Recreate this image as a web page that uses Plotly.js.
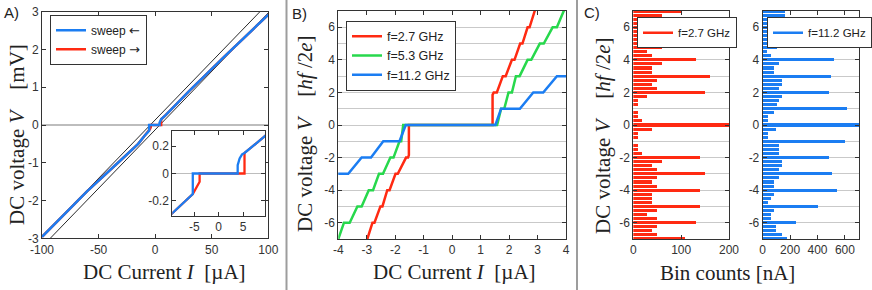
<!DOCTYPE html>
<html><head><meta charset="utf-8">
<script src="https://cdn.plot.ly/plotly-3.0.1.min.js"></script>
<style>html,body{margin:0;padding:0;background:#fff;}</style>
</head><body>
<div id="chart" style="width:872px;height:290px;"></div>
<script>
// ---------- Panel A: IV curve (mV vs µA) ----------
const sweepBackI = [-100, -60, -30, -15, -9.5, -5.3, -5.3, 3.9, 3.9, 4.3, 4.8, 5.3, 9.5, 15, 30, 60, 100];
const sweepBackV = [-2.96, -1.75, -0.92, -0.5, -0.29, -0.15, 0, 0, 0.06, 0.11, 0.14, 0.15, 0.27, 0.44, 0.9, 1.78, 2.92];
const sweepFwdI = [-100, -60, -30, -15, -9.5, -5.3, -4.6, -3.9, -3.9, 5.3, 5.3, 9.5, 15, 30, 60, 100];
const sweepFwdV = [-2.96, -1.75, -0.92, -0.5, -0.29, -0.15, -0.11, -0.06, 0, 0, 0.15, 0.27, 0.44, 0.9, 1.78, 2.92];
const asymUpperI = [-100, 92.6];
const asymUpperV = [-2.96, 3.0];
const asymLowerI = [-92.7, 100];
const asymLowerV = [-3.0, 2.97];
const switchCurrents = [-5.3, -3.9, 3.9, 5.3];
const aXTickVals = [-100, -50, 0, 50, 100];
const aXTickText = ['-100', '-50', '0', '50', '100'];
const aYTickVals = [-3, -2, -1, 0, 1, 2, 3];
const aYTickText = ['-3', '-2', '-1', '0', '1', '2', '3'];
const inXTickVals = [-5, 0, 5];
const inXTickText = ['-5', '0', '5'];
const inYTickVals = [-0.2, 0, 0.2];
const inYTickText = ['-0.2', '0', '0.2'];

// ---------- Panel B: Shapiro steps ----------
const red27I = [-3.1, -2.98, -2.80, -2.73, -2.52, -2.45, -2.28, -2.20, -1.99, -1.91, -1.62, -1.55, -1.52, -1.52, 1.42, 1.42, 1.46, 1.57, 1.78, 1.88, 2.10, 2.19, 2.39, 2.47, 2.65, 2.72, 2.90, 3.0];
const red27V = [-7.4, -7, -6, -6, -5, -5, -4, -4, -3, -3, -2, -2, -1.85, 0, 0, 1.85, 2, 2, 3, 3, 4, 4, 5, 5, 6, 6, 7, 7.4];
const green53I = [-4.05, -4.0, -3.80, -3.60, -3.33, -3.18, -2.93, -2.78, -2.57, -2.43, -2.17, -2.06, -1.85, -1.79, -1.72, 1.58, 1.72, 1.83, 1.98, 2.10, 2.24, 2.37, 2.65, 2.78, 3.08, 3.22, 3.53, 3.68, 3.92, 4.05];
const green53V = [-7.2, -7, -6, -6, -5, -5, -4, -4, -3, -3, -2, -2, -1, -1, 0, 0, 1, 1, 2, 2, 3, 3, 4, 4, 5, 5, 6, 6, 7, 7.3];
const blue112I = [-4.05, -3.65, -3.18, -2.85, -2.42, -1.85, -1.63, 1.52, 1.72, 2.38, 2.85, 3.20, 3.68, 4.05];
const blue112V = [-3, -3, -2, -2, -1, -1, 0, 0, 1, 1, 2, 2, 3, 3];
const bXTickVals = [-4, -3, -2, -1, 0, 1, 2, 3, 4];
const bXTickText = ['-4', '-3', '-2', '-1', '0', '1', '2', '3', '4'];
const vTickVals = [-6, -4, -2, 0, 2, 4, 6];
const vTickText = ['-6', '-4', '-2', '0', '2', '4', '6'];

// ---------- Panel C: histograms ----------
const binV = [7, 6.75, 6.5, 6.25, 6, 5.75, 5.5, 5.25, 5, 4.75, 4.5, 4.25, 4, 3.75, 3.5, 3.25, 3, 2.75, 2.5, 2.25, 2, 1.75, 1.5, 1.25, 1, 0.75, 0.5, 0.25, 0,
  -0.25, -0.5, -0.75, -1, -1.25, -1.5, -1.75, -2, -2.25, -2.5, -2.75, -3, -3.25, -3.5, -3.75, -4, -4.25, -4.5, -4.75, -5, -5.25, -5.5, -5.75, -6, -6.25, -6.5, -6.75, -7];
const counts27 = [100, 59, 40, 45, 115, 45, 39, 49, 120, 59, 29, 39, 130, 59, 39, 39, 160, 49, 39, 49, 150, 29, 9, 9, 0, 9, 9, 19, 230,
  39, 9, 9, 0, 9, 9, 19, 140, 59, 39, 49, 150, 49, 39, 49, 140, 39, 39, 39, 140, 49, 29, 49, 130, 49, 39, 49, 109];
const counts112 = [160, 160, 60, 50, 230, 60, 58, 58, 379, 101, 34, 58, 522, 121, 82, 82, 502, 140, 140, 121, 481, 140, 121, 101, 618, 82, 36, 36, 750,
  100, 38, 38, 604, 120, 120, 120, 485, 139, 139, 120, 505, 120, 80, 80, 544, 80, 59, 39, 405, 80, 59, 59, 241, 100, 100, 139, 180];
const c1TickVals = [0, 100, 200];
const c1TickText = ['0', '100', '200'];
const c2TickVals = [0, 200, 400, 600];
const c2TickText = ['0', '200', '400', '600'];

// ---------- styles ----------
const RED = '#ff2a12', GREEN = '#27d84c', BLUE = '#1b7df2';
const SANS = 'Liberation Sans, Arial, sans-serif';
const SERIF = 'Liberation Serif, Times New Roman, serif';
const tickFont = {family: SANS, size: 12, color: '#333'};
const GRID = '#c9c9c9';

function ax(extra) {
  return Object.assign({
    showline: true, linecolor: '#333', linewidth: 1, mirror: 'ticks',
    ticks: 'inside', ticklen: 4, tickwidth: 1, tickcolor: '#333',
    showgrid: false, zeroline: false, tickfont: tickFont, tickmode: 'array'
  }, extra);
}

const ARROW_L = '<span style="font-family:DejaVu Sans;font-size:13px">\u2190</span>';
const ARROW_R = '<span style="font-family:DejaVu Sans;font-size:13px">\u2192</span>';

const traces = [
  {x: asymUpperI, y: asymUpperV, xaxis: 'x', yaxis: 'y', mode: 'lines', line: {color: '#111', width: 0.9}, showlegend: false, hoverinfo: 'skip'},
  {x: asymLowerI, y: asymLowerV, xaxis: 'x', yaxis: 'y', mode: 'lines', line: {color: '#111', width: 0.9}, showlegend: false, hoverinfo: 'skip'},
  {x: sweepFwdI, y: sweepFwdV, xaxis: 'x', yaxis: 'y', mode: 'lines', line: {color: RED, width: 2.5}, showlegend: false},
  {x: sweepBackI, y: sweepBackV, xaxis: 'x', yaxis: 'y', mode: 'lines', line: {color: BLUE, width: 2.5}, name: 'sweep ' + ARROW_L, legend: 'legend', legendrank: 1},
  {x: [null], y: [null], xaxis: 'x', yaxis: 'y', mode: 'lines', line: {color: RED, width: 2.5}, name: 'sweep ' + ARROW_R, legend: 'legend', legendrank: 2},
  // inset
  {x: sweepFwdI, y: sweepFwdV, xaxis: 'x5', yaxis: 'y5', mode: 'lines', line: {color: RED, width: 2.3}, showlegend: false},
  {x: sweepBackI, y: sweepBackV, xaxis: 'x5', yaxis: 'y5', mode: 'lines', line: {color: BLUE, width: 2.3}, showlegend: false},
  // panel B
  {x: red27I, y: red27V, xaxis: 'x2', yaxis: 'y2', mode: 'lines', line: {color: RED, width: 2.5}, name: 'f=2.7 GHz', legend: 'legend2'},
  {x: green53I, y: green53V, xaxis: 'x2', yaxis: 'y2', mode: 'lines', line: {color: GREEN, width: 2.5}, name: 'f=5.3 GHz', legend: 'legend2'},
  {x: blue112I, y: blue112V, xaxis: 'x2', yaxis: 'y2', mode: 'lines', line: {color: BLUE, width: 2.5}, name: 'f=11.2 GHz', legend: 'legend2'},
  // panel C
  {type: 'bar', orientation: 'h', x: counts27, y: binV, xaxis: 'x3', yaxis: 'y3', width: 0.19, marker: {color: RED, line: {width: 0}}, showlegend: false},
  {x: [null], y: [null], xaxis: 'x3', yaxis: 'y3', mode: 'lines', line: {color: RED, width: 2.5}, name: 'f=2.7 GHz', legend: 'legend3'},
  {type: 'bar', orientation: 'h', x: counts112, y: binV, xaxis: 'x4', yaxis: 'y4', width: 0.19, marker: {color: BLUE, line: {width: 0}}, showlegend: false},
  {x: [null], y: [null], xaxis: 'x4', yaxis: 'y4', mode: 'lines', line: {color: BLUE, width: 2.5}, name: 'f=11.2 GHz', legend: 'legend4'}
];

const yDomA = [1 - 238.3/290, 1 - 11.7/290];
const yDomBC = [1 - 239/290, 1 - 11/290];
const minorGrid = {tickmode: 'linear', tick0: 0, dtick: 1, showgrid: true, gridcolor: GRID, gridwidth: 1, ticks: ''};

const legendBase = {xanchor: 'left', yanchor: 'top', bgcolor: '#fff', bordercolor: '#333', borderwidth: 1,
  font: {family: SANS, size: 12, color: '#222'}, tracegroupgap: 0, itemwidth: 30};

const shapes = [
  {type: 'line', xref: 'paper', yref: 'paper', x0: 286.5/872, x1: 286.5/872, y0: 0, y1: 1, line: {color: '#9d9d9d', width: 2}},
  {type: 'line', xref: 'paper', yref: 'paper', x0: 577/872, x1: 577/872, y0: 0, y1: 1, line: {color: '#9d9d9d', width: 2}}
].concat(switchCurrents.map(c => ({type: 'line', xref: 'x5', yref: 'y5 domain', x0: c, x1: c, y0: 0, y1: 1, layer: 'below', line: {color: '#bdbdbd', width: 1.2}})));

function ttl(text, x, y, angle) {
  return {text: text, xref: 'paper', yref: 'paper', x: x, y: y, showarrow: false, textangle: angle || 0,
    xanchor: 'center', yanchor: 'middle', font: {family: SERIF, size: 21, color: '#222'}};
}
function lbl(text, x, y) {
  return {text: text, xref: 'paper', yref: 'paper', x: x, y: y, showarrow: false, xanchor: 'left', yanchor: 'middle',
    font: {family: SANS, size: 15, color: '#222'}};
}
const annotations = [
  lbl('A)', 2/872, 1 - 13/290), lbl('B)', 290/872, 1 - 14/290), lbl('C)', 582/872, 1 - 13/290),
  ttl('DC Current <i>I</i>\u2002[µA]', 164/872, 1 - 272/290),
  ttl('DC Current <i>I</i>\u2002[µA]', 454/872, 1 - 272/290),
  ttl('Bin counts [nA]', 727/872, 1 - 273/290),
  ttl('DC voltage <i>V</i>\u2003[mV]', 17/872, 1 - 135/290, -90),
  ttl('DC voltage <i>V</i>\u2003[<i>hf</i> /2<i>e</i>]', 305/872, 1 - 134/290, -90),
  ttl('DC voltage <i>V</i>\u2003[<i>hf</i> /2<i>e</i>]', 603/872, 1 - 136/290, -90)
];

const layout = {
  width: 872, height: 290, margin: {l: 0, r: 0, t: 0, b: 0},
  paper_bgcolor: '#fff', plot_bgcolor: '#fff', showlegend: true,
  xaxis: ax({domain: [42/872, 268.3/872], range: [-100, 100], anchor: 'y', tickvals: aXTickVals, ticktext: aXTickText}),
  yaxis: ax({domain: yDomA, range: [-3, 3], anchor: 'x', tickvals: aYTickVals, ticktext: aYTickText, zeroline: true, zerolinecolor: '#bdbdbd', zerolinewidth: 1.2}),
  xaxis2: ax({domain: [338.3/872, 566/872], range: [-4, 4], anchor: 'y2', tickvals: bXTickVals, ticktext: bXTickText}),
  yaxis2: ax({domain: yDomBC, range: [-7, 7], anchor: 'x2', tickvals: vTickVals, ticktext: vTickText, showgrid: true, gridcolor: GRID, minor: minorGrid}),
  xaxis3: ax({domain: [633.3/872, 729/872], range: [0, 200], anchor: 'y3', tickvals: c1TickVals, ticktext: c1TickText}),
  yaxis3: ax({domain: yDomBC, range: [-7, 7], anchor: 'x3', tickvals: vTickVals, ticktext: vTickText, showgrid: true, gridcolor: GRID, minor: minorGrid}),
  xaxis4: ax({domain: [762.7/872, 859.3/872], range: [0, 705], anchor: 'y4', tickvals: c2TickVals, ticktext: c2TickText}),
  yaxis4: ax({domain: yDomBC, range: [-7, 7], anchor: 'x4', tickvals: vTickVals, ticktext: vTickText, showgrid: true, gridcolor: GRID, minor: minorGrid}),
  xaxis5: ax({domain: [172.3/872, 265/872], range: [-9.5, 9.5], anchor: 'y5', tickvals: inXTickVals, ticktext: inXTickText}),
  yaxis5: ax({domain: [1 - 216/290, 1 - 131/290], range: [-0.31, 0.31], anchor: 'x5', tickvals: inYTickVals, ticktext: inYTickText, zeroline: true, zerolinecolor: '#bdbdbd', zerolinewidth: 1.2}),
  legend: Object.assign({}, legendBase, {x: 50/872, y: 1 - 14.7/290}),
  legend2: Object.assign({}, legendBase, {x: 346/872, y: 1 - 20.7/290, font: {family: SANS, size: 12.5, color: '#222'}}),
  legend3: Object.assign({}, legendBase, {x: 637/872, y: 1 - 17.3/290, font: {family: SANS, size: 11.5, color: '#222'}}),
  legend4: Object.assign({}, legendBase, {x: 767/872, y: 1 - 17.3/290, font: {family: SANS, size: 11.5, color: '#222'}}),
  bargap: 0,
  shapes: shapes,
  annotations: annotations
};

Plotly.newPlot('chart', traces, layout, {staticPlot: true, displayModeBar: false});
</script>
</body></html>
